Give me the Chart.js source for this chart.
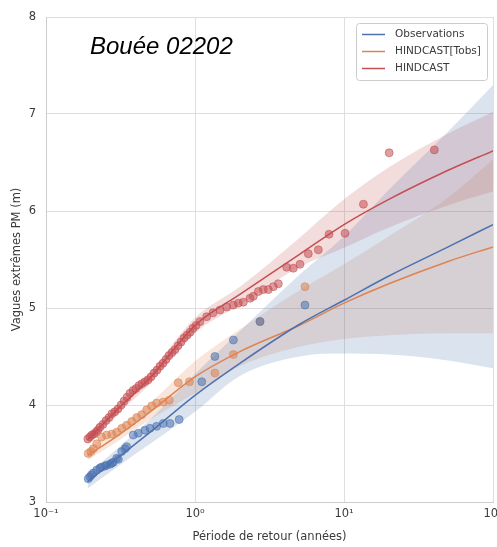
<!DOCTYPE html>
<html>
<head>
<meta charset="utf-8">
<title>Bouée 02202</title>
<script src="https://cdn.jsdelivr.net/npm/chart.js@4"></script>
<style>
  html, body { margin: 0; padding: 0; background: #fff; overflow: hidden; }
  #wrap { width: 510px; height: 547px; }
</style>
</head>
<body>
<div id="wrap"><canvas id="chart" width="510" height="547"></canvas></div>
<script>
// Return-period plot, buoy 02202

const plotTitle = "Bouée 02202";
const xTitle = "Période de retour (années)";
const yTitle = "Vagues extrêmes PM (m)";

const seriesNames = ["Observations", "HINDCAST[Tobs]", "HINDCAST"];
const seriesColors = ["#4c72b0", "#dd8452", "#c44e52"];

const xTickValues = [0.1, 1, 10, 100];
const xTickLabels = ["10⁻¹", "10⁰", "10¹", "10²"];
const yTickValues = [3, 4, 5, 6, 7, 8];

// empirical points (return period in years, wave height in m)
const obsPeriod = [0.192, 0.197, 0.202, 0.208, 0.219, 0.230, 0.236, 0.249, 0.255, 0.269,
  0.276, 0.283, 0.298, 0.306, 0.322, 0.339, 0.348, 0.385, 0.416, 0.461,
  0.499, 0.553, 0.612, 0.680, 0.783, 1.11, 1.36, 1.81, 2.73, 5.47];
const obsWave = [3.24, 3.26, 3.28, 3.30, 3.33, 3.35, 3.36, 3.37, 3.38, 3.39,
  3.40, 3.41, 3.45, 3.44, 3.52, 3.55, 3.57, 3.69, 3.71, 3.74,
  3.76, 3.78, 3.81, 3.81, 3.85, 4.24, 4.50, 4.67, 4.86, 5.03];

const tobsPeriod = [0.192, 0.200, 0.208, 0.219, 0.236, 0.255, 0.276, 0.298, 0.322, 0.348,
  0.376, 0.406, 0.439, 0.474, 0.512, 0.553, 0.612, 0.672, 0.772, 0.918,
  1.36, 1.81, 2.73, 5.47];
const tobsWave = [3.50, 3.52, 3.55, 3.60, 3.67, 3.69, 3.70, 3.72, 3.76, 3.79,
  3.83, 3.87, 3.90, 3.95, 3.99, 4.02, 4.03, 4.05, 4.23, 4.24,
  4.33, 4.52, 4.86, 5.22];

const hindPeriod = [0.191, 0.197, 0.203, 0.210, 0.217, 0.223, 0.230, 0.241, 0.253, 0.265,
  0.277, 0.290, 0.304, 0.319, 0.334, 0.350, 0.366, 0.384, 0.402, 0.421,
  0.441, 0.462, 0.484, 0.507, 0.531, 0.556, 0.582, 0.610, 0.639, 0.669,
  0.701, 0.734, 0.769, 0.806, 0.844, 0.884, 0.926, 0.970, 1.016, 1.080,
  1.198, 1.321, 1.472, 1.632, 1.807, 1.953, 2.110, 2.339, 2.462, 2.660,
  2.873, 3.104, 3.354, 3.624, 4.124, 4.568, 5.067, 5.759, 6.722, 7.932,
  10.16, 13.5, 20.1, 40.4];
const hindWave = [3.65, 3.67, 3.69, 3.70, 3.72, 3.74, 3.77, 3.80, 3.84, 3.87,
  3.91, 3.93, 3.96, 4.00, 4.04, 4.08, 4.12, 4.15, 4.17, 4.20,
  4.22, 4.24, 4.26, 4.29, 4.33, 4.36, 4.40, 4.43, 4.47, 4.51,
  4.54, 4.57, 4.61, 4.65, 4.69, 4.72, 4.75, 4.79, 4.82, 4.86,
  4.91, 4.95, 4.98, 5.01, 5.03, 5.05, 5.06, 5.10, 5.12, 5.17,
  5.19, 5.19, 5.22, 5.25, 5.42, 5.41, 5.45, 5.56, 5.60, 5.76,
  5.77, 6.07, 6.60, 6.63];

// fitted curves and confidence bands
const curvePeriod = [0.19, 0.3, 0.5, 1, 2, 5, 10, 20, 50, 100];
const obsFit  = [3.21, 3.45, 3.72, 4.10, 4.43, 4.83, 5.08, 5.33, 5.63, 5.86];
const obsLow  = [3.14, 3.36, 3.60, 3.93, 4.30, 4.50, 4.53, 4.52, 4.46, 4.38];
const obsHigh = [3.29, 3.55, 3.85, 4.32, 4.76, 5.34, 5.74, 6.22, 6.82, 7.30];
const tobsFit  = [3.48, 3.68, 3.93, 4.29, 4.55, 4.82, 5.05, 5.25, 5.48, 5.63];
const tobsLow  = [3.43, 3.62, 3.85, 4.12, 4.40, 4.60, 4.68, 4.72, 4.74, 4.74];
const tobsHigh = [3.55, 3.76, 4.02, 4.45, 4.78, 5.18, 5.45, 5.74, 6.14, 6.53];
const hindFit  = [3.64, 3.95, 4.28, 4.82, 5.14, 5.55, 5.86, 6.12, 6.42, 6.62];
const hindLow  = [3.60, 3.90, 4.22, 4.74, 5.03, 5.42, 5.62, 5.83, 6.06, 6.20];
const hindHigh = [3.70, 4.00, 4.34, 4.90, 5.22, 5.72, 6.12, 6.45, 6.80, 7.02];

const series = [
  { px: obsPeriod, py: obsWave, fit: obsFit, low: obsLow, high: obsHigh },
  { px: tobsPeriod, py: tobsWave, fit: tobsFit, low: tobsLow, high: tobsHigh },
  { px: hindPeriod, py: hindWave, fit: hindFit, low: hindLow, high: hindHigh }
];

function pairs(xs, ys) {
  return xs.map((x, i) => ({ x: x, y: ys[i] }));
}

function rgba(hex, a) {
  const n = parseInt(hex.slice(1), 16);
  return `rgba(${(n >> 16) & 255}, ${(n >> 8) & 255}, ${n & 255}, ${a})`;
}

const datasets = [];
series.forEach((s, i) => {
  const c = seriesColors[i];
  datasets.push({
    data: pairs(curvePeriod, s.low),
    borderWidth: 0, pointRadius: 0, fill: false,
    cubicInterpolationMode: "monotone", order: 10
  });
  datasets.push({
    data: pairs(curvePeriod, s.high),
    borderWidth: 0, pointRadius: 0, fill: "-1",
    backgroundColor: rgba(c, 0.2),
    cubicInterpolationMode: "monotone", order: 10
  });
  datasets.push({
    data: pairs(s.px, s.py),
    showLine: false, pointRadius: 4,
    pointBackgroundColor: rgba(c, 0.55),
    pointBorderColor: rgba(c, 0.55),
    pointBorderWidth: 1, order: 5
  });
  datasets.push({
    label: seriesNames[i],
    data: pairs(curvePeriod, s.fit),
    borderColor: c, borderWidth: 1.5, pointRadius: 0, fill: false,
    cubicInterpolationMode: "monotone", order: 1
  });
});

const textColor = "#3a3a3a";
const gridColor = "#dedede";

// title inside the axes + legend box in the upper right
const notesPlugin = {
  id: "notes",
  afterDraw(chart) {
    const ctx = chart.ctx;
    ctx.save();
    ctx.fillStyle = "#000";
    ctx.font = 'italic 24px "Liberation Sans", Arial, sans-serif';
    ctx.textBaseline = "alphabetic";
    ctx.textAlign = "left";
    ctx.fillText(plotTitle, 90, 54);

    ctx.beginPath();
    ctx.roundRect(356.5, 23.5, 131, 57, 3);
    ctx.fillStyle = "rgba(255,255,255,0.85)";
    ctx.fill();
    ctx.strokeStyle = "#cccccc";
    ctx.lineWidth = 1;
    ctx.stroke();

    ctx.font = '10.5px "DejaVu Sans", sans-serif';
    ctx.textBaseline = "middle";
    seriesNames.forEach((name, i) => {
      const y = 34.5 + i * 17;
      ctx.strokeStyle = seriesColors[i];
      ctx.lineWidth = 1.5;
      ctx.beginPath();
      ctx.moveTo(362, y);
      ctx.lineTo(385, y);
      ctx.stroke();
      ctx.fillStyle = textColor;
      ctx.fillText(name, 395, y);
    });
    ctx.restore();
  }
};

new Chart(document.getElementById("chart"), {
  type: "line",
  data: { datasets: datasets },
  plugins: [notesPlugin],
  options: {
    responsive: false,
    animation: false,
    devicePixelRatio: 1,
    layout: { padding: { top: 17, right: 17, left: 0, bottom: 0 } },
    plugins: {
      legend: { display: false },
      tooltip: { enabled: false }
    },
    scales: {
      x: {
        type: "logarithmic",
        min: 0.1,
        max: 100,
        afterBuildTicks: ax => { ax.ticks = xTickValues.map(v => ({ value: v })); },
        afterFit: ax => { ax.height = 45; },
        grid: { color: gridColor, drawTicks: false },
        border: { color: "#cccccc" },
        ticks: {
          padding: 5,
          autoSkip: false,
          maxRotation: 0,
          color: textColor,
          font: { family: "DejaVu Sans", size: 11.5 },
          callback: v => {
            const i = xTickValues.indexOf(v);
            return i >= 0 ? xTickLabels[i] : "";
          }
        },
        title: {
          display: true,
          text: xTitle,
          color: textColor,
          font: { family: "DejaVu Sans", size: 11.5 },
          padding: { top: 0, bottom: 3 }
        }
      },
      y: {
        min: 3,
        max: 8,
        afterBuildTicks: ax => { ax.ticks = yTickValues.map(v => ({ value: v })); },
        afterFit: ax => { ax.width = 46; },
        grid: { color: gridColor, drawTicks: false },
        border: { color: "#cccccc" },
        ticks: {
          padding: 10,
          color: textColor,
          font: { family: "DejaVu Sans", size: 11.5 }
        },
        title: {
          display: true,
          text: yTitle,
          color: textColor,
          font: { family: "DejaVu Sans", size: 11.5 },
          padding: { top: 10, bottom: 0 }
        }
      }
    }
  }
});
</script>
</body>
</html>
